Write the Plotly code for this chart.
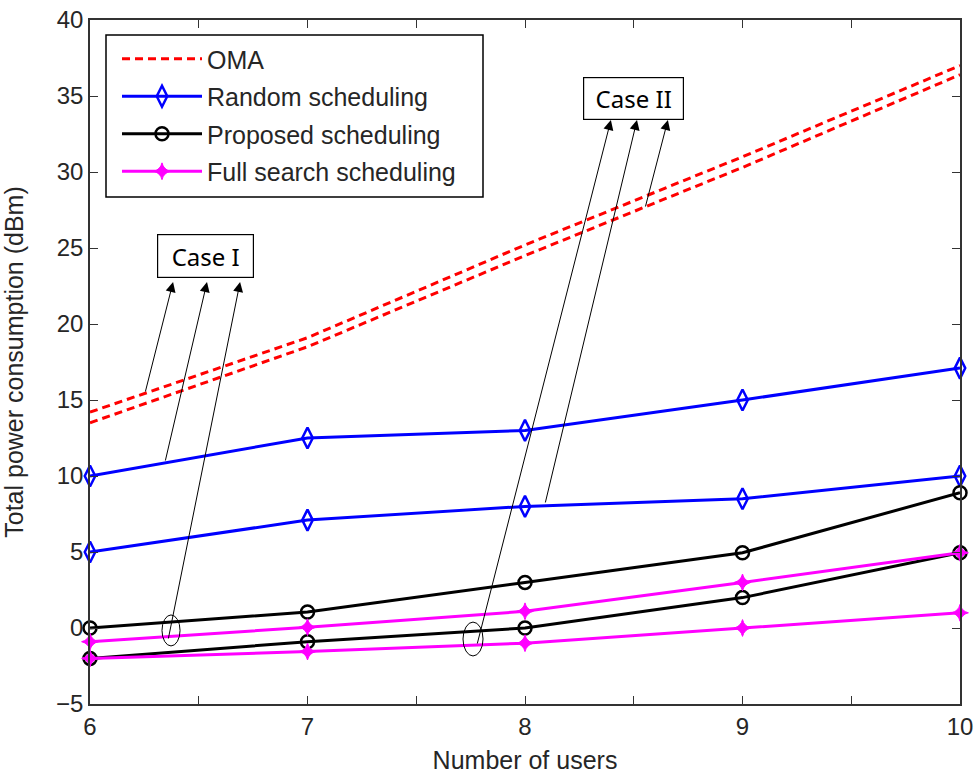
import plotly.graph_objects as go

users = [6, 7, 8, 9, 10]
oma_hi = [14.2, 19.1, 25.2, 31.0, 37.0]
oma_lo = [13.5, 18.5, 24.5, 30.3, 36.4]
rand_hi = [10.0, 12.5, 13.0, 15.0, 17.1]
rand_lo = [5.0, 7.1, 8.0, 8.5, 10.0]
prop_hi = [0.0, 1.05, 3.0, 4.95, 8.9]
prop_lo = [-2.0, -0.9, 0.0, 2.0, 4.95]
full_hi = [-0.9, 0.05, 1.1, 3.0, 4.95]
full_lo = [-2.0, -1.55, -1.0, 0.0, 1.0]

xticks = [6, 6.5, 7, 7.5, 8, 8.5, 9, 9.5, 10]
xtick_text = ["6", "", "7", "", "8", "", "9", "", "10"]
yticks = [-5, 0, 5, 10, 15, 20, 25, 30, 35, 40]

FONT = "Liberation Sans, Arial, sans-serif"

fig = go.Figure()

def add(y, name, color, show, group, dash="solid", symbol=None, msize=10, mlw=2.5):
    mode = "lines+markers" if symbol else "lines"
    marker = dict(symbol=symbol, size=msize, color=color, line=dict(color=color, width=mlw)) if symbol else None
    fig.add_trace(go.Scatter(
        x=users, y=y, name=name, mode=mode, legendgroup=group, showlegend=show,
        line=dict(color=color, width=3, dash=dash), marker=marker, cliponaxis=False))

add(oma_hi, "OMA", "#ff0000", True, "a", dash="8px,5px")
add(oma_lo, "OMA", "#ff0000", False, "a", dash="8px,5px")
add(rand_hi, "Random scheduling", "#0000ff", True, "b", symbol="diamond-tall-open", msize=15)
add(rand_lo, "Random scheduling", "#0000ff", False, "b", symbol="diamond-tall-open", msize=15)
add(prop_hi, "Proposed scheduling", "#000000", True, "c", symbol="circle-open", msize=13)
add(prop_lo, "Proposed scheduling", "#000000", False, "c", symbol="circle-open", msize=13)
add(full_hi, "Full search scheduling", "#ff00ff", True, "d", symbol="star-diamond", msize=12, mlw=1)
add(full_lo, "Full search scheduling", "#ff00ff", False, "d", symbol="star-diamond", msize=12, mlw=1)

# plot area targets (page px): left 90, right 960, top 20, bottom 704
PW, PH = 870, 684
def px(xp):
    return (xp - 90) / PW
def py(yp):
    return (704 - yp) / PH

# legend box (MATLAB style)
fig.add_shape(type="rect", xref="paper", yref="paper",
              x0=px(106), x1=px(483), y0=py(197), y1=py(35),
              line=dict(color="#000000", width=1.5), fillcolor="white", layer="above")

# Case boxes
fig.add_annotation(x=6.533, y=24.47, xref="x", yref="y", text="Case I", showarrow=False,
                   font=dict(family="Noto Sans, sans-serif", size=24, color="#000"),
                   bgcolor="white", bordercolor="#000", borderwidth=1.2, borderpad=4,
                   width=87, height=34)
fig.add_annotation(x=8.499, y=34.84, xref="x", yref="y", text="Case II", showarrow=False,
                   font=dict(family="Noto Sans, sans-serif", size=24, color="#000"),
                   bgcolor="white", bordercolor="#000", borderwidth=1.2, borderpad=4,
                   width=91, height=33)

# arrows: (head_x, head_y, tail_x, tail_y)
arrows = [
    (6.382, 22.76, 6.253, 15.46),
    (6.538, 22.76, 6.345, 10.92),
    (6.690, 22.76, 6.359, -0.79),
    (8.395, 33.42, 7.779, -1.12),
    (8.515, 33.42, 8.092, 8.16),
    (8.657, 33.42, 8.552, 27.63),
]
for hx, hy, tx, ty in arrows:
    fig.add_annotation(x=hx, y=hy, ax=tx, ay=ty, xref="x", yref="y", axref="x", ayref="y",
                       text="", showarrow=True, arrowhead=2, arrowsize=2, arrowwidth=1,
                       arrowcolor="#000", standoff=0, startstandoff=0)

# ellipses
fig.add_shape(type="circle", xref="x", yref="y", x0=6.331, x1=6.414, y0=-1.18, y1=0.86,
              line=dict(color="#000", width=1))
fig.add_shape(type="circle", xref="x", yref="y", x0=7.715, x1=7.807, y0=-1.84, y1=0.39,
              line=dict(color="#000", width=1))

fig.update_layout(
    width=974, height=776,
    margin=dict(l=90, r=14, t=20, b=72),
    paper_bgcolor="white", plot_bgcolor="white",
    font=dict(family=FONT, size=24, color="#262626"),
    showlegend=True,
    legend=dict(x=px(117), y=py(36), xanchor="left", yanchor="top",
                bgcolor="rgba(0,0,0,0)", borderwidth=0, tracegroupgap=2, itemwidth=80,
                font=dict(family=FONT, size=25, color="#262626")),
    xaxis=dict(range=[6, 10], tickvals=xticks, ticktext=xtick_text, ticks="inside", ticklen=8,
               tickcolor="#333", showline=True, linecolor="#333", linewidth=1.5, mirror="ticks",
               showgrid=False, zeroline=False, automargin=False, ticklabeloverflow="allow",
               title=dict(text="Number of users", font=dict(size=25), standoff=13)),
    yaxis=dict(range=[-5, 40], tickvals=yticks, ticks="inside", ticklen=8,
               tickcolor="#333", showline=True, linecolor="#333", linewidth=1.5, mirror="ticks",
               showgrid=False, zeroline=False, automargin=False, ticklabeloverflow="allow",
               title=dict(text="Total power consumption (dBm)", font=dict(size=25), standoff=43)),
)

fig.write_html("out.html", config={"displayModeBar": False},
               post_script="document.body.style.margin='0';")
